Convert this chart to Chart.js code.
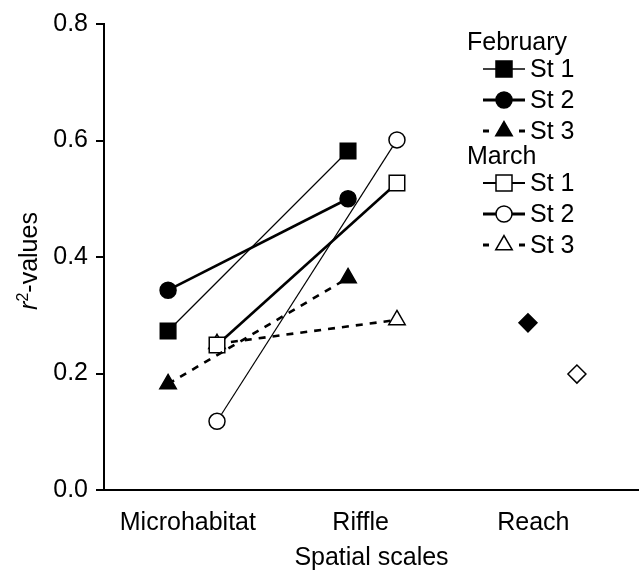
<!DOCTYPE html>
<html>
<head>
<meta charset="utf-8">
<script src="https://cdn.jsdelivr.net/npm/chart.js@4.4.0/dist/chart.umd.min.js"></script>
<style>
  body { margin: 0; background: #fff; }
  #wrap { width: 639px; height: 573px; }
</style>
</head>
<body>
<div id="wrap"><canvas id="chart" width="639" height="573"></canvas></div>
<script>
// categories on the x axis
const scaleNames = ['Microhabitat', 'Riffle', 'Reach'];
const yTicks = [0.0, 0.2, 0.4, 0.6, 0.8];

// r2 values at Microhabitat and Riffle
const febSt1 = [0.273, 0.582];
const febSt2 = [0.343, 0.500];
const febSt3 = [0.182, 0.364];
const marSt1 = [0.249, 0.527];
const marSt2 = [0.118, 0.601];
const marSt3 = [0.251, 0.292];
// r2 values at Reach
const febReach = [0.287];
const marReach = [0.199];

const FONT = 'Liberation Sans, Arial, Helvetica, sans-serif';
const marchShift = 0.272; // March points are drawn a bit to the right

function toPoints(vals, start, shift) {
    return vals.map((v, i) => ({ x: start + i + shift, y: v }));
}

function series(label, group, vals, start, shift, style) {
    return Object.assign({
        label: label,
        group: group,
        data: toPoints(vals, start, shift),
        showLine: true,
        borderColor: '#000',
        pointBorderColor: '#000',
        pointBorderWidth: 1.5,
        borderWidth: 1.2
    }, style);
}

const datasets = [
    series('St 1', 'February', febSt1, 0, 0, { pointStyle: 'rect', pointRadius: 11, pointBackgroundColor: '#000', borderWidth: 1.2, legendWidth: 1.3 }),
    series('St 2', 'February', febSt2, 0, 0, { pointStyle: 'circle', pointRadius: 8, pointBackgroundColor: '#000', borderWidth: 2.6, legendWidth: 3 }),
    series('St 3', 'February', febSt3, 0, 0, { pointStyle: 'triangle', pointRadius: 9.5, pointBackgroundColor: '#000', borderWidth: 2.6, borderDash: [7, 7], legendWidth: 3 }),
    series('St 1', 'March', marSt1, 0, marchShift, { pointStyle: 'rect', pointRadius: 11, pointBackgroundColor: '#fff', borderWidth: 2.6, legendWidth: 1.8 }),
    series('St 2', 'March', marSt2, 0, marchShift, { pointStyle: 'circle', pointRadius: 8, pointBackgroundColor: '#fff', borderWidth: 1.2, legendWidth: 2.8 }),
    series('St 3', 'March', marSt3, 0, marchShift, { pointStyle: 'triangle', pointRadius: 9.5, pointBackgroundColor: '#fff', borderWidth: 2.6, borderDash: [7, 7], legendWidth: 3 }),
    series('Reach', null, febReach, 2, 0, { showLine: false, pointStyle: 'rectRot', pointRadius: 9, pointBackgroundColor: '#000' }),
    series('Reach', null, marReach, 2, marchShift, { showLine: false, pointStyle: 'rectRot', pointRadius: 9, pointBackgroundColor: '#fff' })
];

// small marker drawer for the legend
function drawMarker(ctx, style, x, y, filled) {
    ctx.beginPath();
    if (style === 'rect') {
        ctx.rect(x - 8, y - 8, 16, 16);
    } else if (style === 'circle') {
        ctx.arc(x, y, 8, 0, Math.PI * 2);
    } else if (style === 'triangle') {
        const r = 9.5;
        ctx.moveTo(x, y - r);
        ctx.lineTo(x + r * Math.sin(2 * Math.PI / 3), y + r / 2);
        ctx.lineTo(x - r * Math.sin(2 * Math.PI / 3), y + r / 2);
        ctx.closePath();
    }
    ctx.fillStyle = filled ? '#000' : '#fff';
    ctx.fill();
    ctx.lineWidth = 1.5;
    ctx.strokeStyle = '#000';
    ctx.stroke();
}

const legendAndTitle = {
    id: 'legendAndTitle',
    afterDraw(chart) {
        const ctx = chart.ctx;
        ctx.save();
        ctx.fillStyle = '#000';
        ctx.strokeStyle = '#000';
        ctx.font = '25px ' + FONT;
        ctx.textBaseline = 'middle';

        // legend: month heading, then one row per station
        let y = 43;
        let lastGroup = null;
        chart.data.datasets.forEach(ds => {
            if (!ds.group) return;
            if (ds.group !== lastGroup) {
                if (lastGroup) y += 26;
                ctx.fillStyle = '#000';
                ctx.textAlign = 'left';
                ctx.fillText(ds.group, 467, y);
                y += 26;
                lastGroup = ds.group;
            } else {
                y += 31;
            }
            ctx.lineWidth = ds.legendWidth;
            ctx.strokeStyle = '#000';
            ctx.beginPath();
            if (ds.borderDash) {
                ctx.moveTo(483, y); ctx.lineTo(489, y);
                ctx.moveTo(519, y); ctx.lineTo(525, y);
            } else {
                ctx.moveTo(483, y); ctx.lineTo(525, y);
            }
            ctx.stroke();
            drawMarker(ctx, ds.pointStyle, 504, y, ds.pointBackgroundColor === '#000');
            ctx.fillStyle = '#000';
            ctx.textAlign = 'left';
            ctx.fillText(ds.label, 530, y + 1);
        });
        ctx.restore();

        // y axis title: italic r, superscript 2, "-values"
        ctx.save();
        ctx.translate(37, 261);
        ctx.rotate(-Math.PI / 2);
        ctx.fillStyle = '#000';
        ctx.textBaseline = 'alphabetic';
        ctx.textAlign = 'left';
        const partR = 'r', part2 = '2', partRest = '-values';
        ctx.font = 'italic 25px ' + FONT;
        const wR = ctx.measureText(partR).width;
        ctx.font = '16px ' + FONT;
        const w2 = ctx.measureText(part2).width;
        ctx.font = '25px ' + FONT;
        const wRest = ctx.measureText(partRest).width;
        let x = -(wR + w2 + wRest) / 2;
        ctx.font = 'italic 25px ' + FONT;
        ctx.fillText(partR, x, 0);
        x += wR;
        ctx.font = '16px ' + FONT;
        ctx.fillText(part2, x, -9);
        x += w2;
        ctx.font = '25px ' + FONT;
        ctx.fillText(partRest, x, 0);
        ctx.restore();
    }
};

Chart.defaults.font.family = FONT;
Chart.defaults.font.size = 25;
Chart.defaults.color = '#000';

new Chart(document.getElementById('chart'), {
    type: 'scatter',
    data: { datasets: datasets },
    options: {
        responsive: false,
        animation: false,
        layout: { autoPadding: false, padding: { top: 24, left: 0, right: 0, bottom: 0 } },
        plugins: {
            legend: { display: false },
            tooltip: { enabled: false }
        },
        scales: {
            x: {
                type: 'linear',
                min: -0.356,
                max: 2.617,
                afterBuildTicks(axis) {
                    // label positions under each group of points
                    axis.ticks = [0.11, 1.07, 2.03].map(v => ({ value: v }));
                },
                afterFit(axis) { axis.height = 83; },
                ticks: {
                    autoSkip: false,
                    maxRotation: 0,
                    padding: 18,
                    callback: (v, i) => scaleNames[i]
                },
                grid: { display: false, drawTicks: false },
                border: { display: true, color: '#000', width: 2 },
                title: {
                    display: true,
                    text: 'Spatial scales',
                    padding: { top: 0, bottom: 0 },
                    font: { size: 25 }
                }
            },
            y: {
                min: 0,
                max: 0.8,
                afterBuildTicks(axis) {
                    axis.ticks = yTicks.map(v => ({ value: v }));
                },
                afterFit(axis) { axis.width = 104; },
                ticks: {
                    padding: 8,
                    callback: v => v.toFixed(1)
                },
                grid: {
                    drawOnChartArea: false,
                    drawTicks: true,
                    tickLength: 8,
                    color: '#000',
                    lineWidth: 2
                },
                border: { display: true, color: '#000', width: 2 }
            }
        }
    },
    plugins: [legendAndTitle]
});
</script>
</body>
</html>
